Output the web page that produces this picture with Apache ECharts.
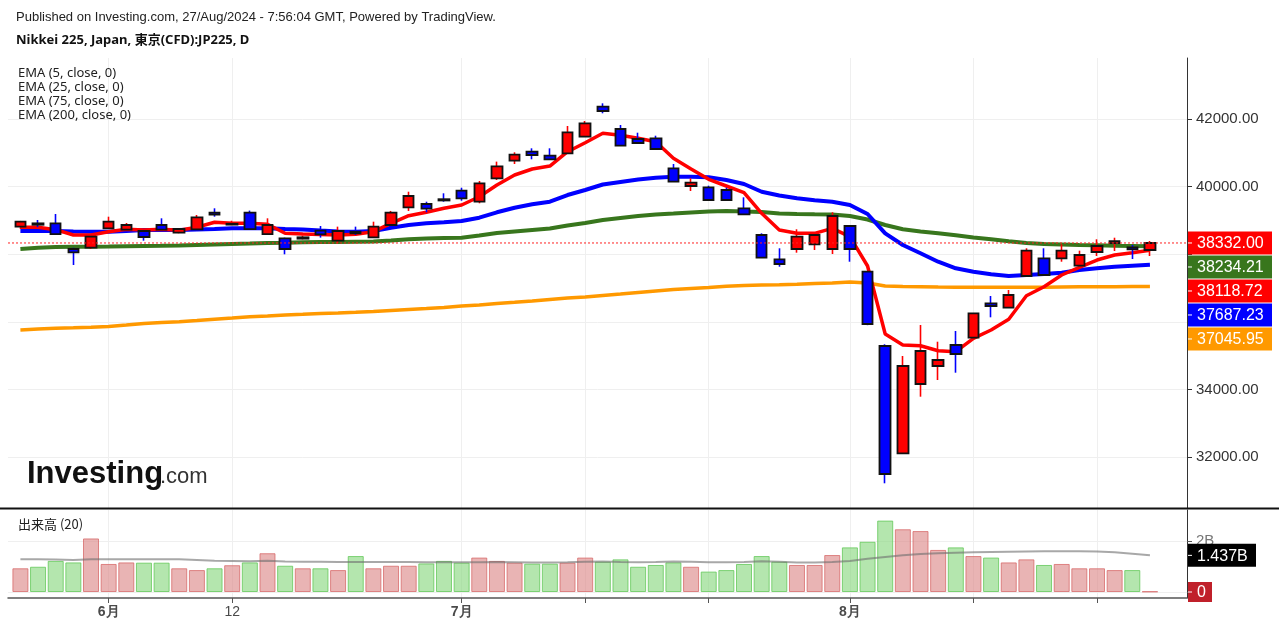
<!DOCTYPE html>
<html><head><meta charset="utf-8">
<script src="https://cdn.jsdelivr.net/npm/echarts@6/dist/echarts.min.js"></script>
<style>html,body{margin:0;padding:0;background:#fff}#c{width:1279px;height:631px}</style>
</head><body><div id="c"></div>
<script>
// ---------- data ----------
const dates = ['05-27','05-28','05-29','05-30','05-31','06-03','06-04','06-05','06-06','06-07',
 '06-10','06-11','06-12','06-13','06-14','06-17','06-18','06-19','06-20','06-21',
 '06-24','06-25','06-26','06-27','06-28','07-01','07-02','07-03','07-04','07-05',
 '07-08','07-09','07-10','07-11','07-12','07-16','07-17','07-18','07-19','07-22',
 '07-23','07-24','07-25','07-26','07-29','07-30','07-31','08-01','08-02','08-05',
 '08-06','08-07','08-08','08-09','08-13','08-14','08-15','08-16','08-19','08-20',
 '08-21','08-22','08-23','08-26','08-27'];
const open  = [38814,38913,38913,38154,38192,38765,38725,38686,38864,38636,
 38737,39231,38875,39231,38597,38470,38460,38695,38400,38666,
 38500,38864,39388,39485,39627,39879,39553,40246,40766,41033,
 40914,40985,41476,42364,41704,41408,41428,40541,40018,39979,
 39899,39358,38568,37849,38154,38293,38154,38834,37482,35284,
 32110,34160,34692,35314,35530,36547,36418,37355,37879,37879,
 37660,38065,38325,38204,38124];
const close = [38962,38872,38597,38056,38518,38962,38864,38509,38725,38745,
 39092,39172,38900,38740,38864,38154,38500,38588,38686,38617,
 38815,39231,39722,39349,39590,39654,40098,40601,40944,40935,
 40808,41606,41872,42237,41210,41290,41112,40145,40116,39604,
 39604,39180,37896,37710,38518,38568,39130,38154,35935,31497,
 34692,35136,34870,35047,36251,36467,36793,38104,37385,38104,
 37976,38243,38385,38145,38332];
const low   = [38746,38800,38590,37680,38154,38760,38720,38400,38720,38620,
 38735,39110,38860,38735,38568,37997,38440,38490,38322,38568,
 38495,38860,39278,39240,39553,39583,39506,40195,40669,40808,
 40800,40985,41470,42169,41205,41290,41110,40140,39870,39574,
 39574,39160,37890,37630,38045,38124,38006,37778,35900,31222,
 32100,33784,34278,34494,35520,36133,36410,37350,37380,37778,
 37612,37947,38095,37858,37947];
const high  = [38985,39012,39189,38192,38548,39110,38923,38716,39062,38765,
 39160,39358,38990,39290,39062,38490,38548,38834,38815,38815,
 38962,39280,39849,39553,39802,39967,40166,40739,41015,41133,
 41133,41793,41941,42464,41822,41595,41506,40669,40246,40027,
 39967,39683,38618,38175,38737,38618,39240,38840,37500,35335,
 34988,35905,35411,35728,36260,36763,36941,38175,38175,38293,
 38104,38441,38488,38272,38390];
const ema5  = [38796,38796,38725,38568,38568,38666,38737,38716,38737,38707,
 38796,38944,38914,38914,38885,38618,38598,38583,38568,38589,
 38666,38914,39139,39240,39358,39456,39701,40047,40343,40521,
 40609,41033,41299,41577,41518,41429,41328,40837,40521,40216,
 40018,39820,39210,38716,38618,38618,38766,38518,37651,35639,
 35314,35293,35145,35115,35512,35757,36074,36772,37038,37385,
 37612,37828,37976,38044,38118.72];
const ema25 = [38686,38686,38686,38672,38666,38666,38686,38716,38716,38716,
 38731,38746,38766,38766,38766,38746,38731,38701,38672,38666,
 38686,38784,38864,38914,38944,38982,39080,39240,39376,39476,
 39553,39751,39899,40062,40136,40210,40263,40293,40293,40275,
 40195,40077,39849,39737,39654,39595,39553,39456,39189,38618,
 38272,38027,37778,37583,37482,37405,37355,37385,37414,37453,
 37533,37583,37630,37660,37687.23];
const ema75 = [38154,38192,38213,38222,38222,38228,38237,38243,38248,38254,
 38272,38287,38302,38316,38331,38340,38355,38361,38361,38370,
 38376,38405,38441,38464,38479,38488,38553,38627,38672,38716,
 38760,38849,38923,39012,39071,39130,39175,39204,39234,39263,
 39278,39263,39249,39204,39189,39180,39175,39130,39027,38864,
 38737,38672,38618,38559,38494,38441,38382,38331,38302,38287,
 38272,38263,38252,38243,38234.21];
const ema200 = [35757,35787,35808,35822,35837,35861,35905,35950,35979,36003,
 36038,36077,36112,36148,36172,36201,36222,36245,36260,36281,
 36305,36334,36364,36393,36423,36467,36497,36541,36577,36615,
 36660,36704,36734,36778,36822,36867,36911,36956,36985,37015,
 37050,37074,37089,37098,37109,37133,37148,37177,37148,37059,
 37044,37038,37030,37024,37021,37021,37021,37021,37021,37030,
 37038,37038,37038,37044,37045.95];
const volume = [0.93,0.99,1.22,1.16,2.10,1.10,1.16,1.15,1.15,0.93,
 0.86,0.93,1.05,1.16,1.52,1.03,0.93,0.93,0.86,1.41,
 0.93,1.03,1.03,1.12,1.22,1.15,1.35,1.22,1.15,1.11,
 1.11,1.15,1.35,1.19,1.28,0.99,1.06,1.16,0.99,0.80,
 0.86,1.10,1.41,1.19,1.06,1.06,1.45,1.75,1.97,2.80,
 2.46,2.39,1.65,1.75,1.41,1.35,1.16,1.28,1.06,1.10,
 0.93,0.93,0.86,0.86,0.02];
const volumeMA = [1.28,1.28,1.27,1.26,1.28,1.28,1.28,1.28,1.28,1.28,
 1.26,1.23,1.22,1.21,1.23,1.20,1.19,1.19,1.18,1.18,
 1.18,1.18,1.18,1.17,1.17,1.17,1.17,1.18,1.17,1.16,
 1.16,1.17,1.19,1.20,1.18,1.17,1.18,1.20,1.19,1.17,
 1.17,1.18,1.21,1.19,1.16,1.16,1.18,1.22,1.30,1.37,
 1.44,1.49,1.52,1.54,1.56,1.57,1.58,1.59,1.60,1.60,
 1.60,1.59,1.56,1.50,1.437];
const xTickIdx = [5,12,25,32,39,47,54,61];
const xLabels = {5:'6月',12:'12',25:'7月',47:'8月'};
const priceGridVals = [32000,34000,36000,38000,40000,42000];
const priceLabelVals = [32000,34000,40000,42000];
const volGridVals = [0,2];
const legendLines = ['EMA (5, close, 0)','EMA (25, close, 0)','EMA (75, close, 0)','EMA (200, close, 0)'];
const priceBadges = [
  {v:38332.00, c:'#ff0000'},
  {v:38234.21, c:'#38761d'},
  {v:38118.72, c:'#ff0000'},
  {v:37687.23, c:'#0000ff'},
  {v:37045.95, c:'#ff9900'}
];
// axis ranges
const X_MIN = -0.703, X_MAX = 66.1;
const P_MIN = 30491, P_MAX = 43805;
const V_MIN = -0.235, V_MAX = 3.216;

// ---------- chart ----------
const chart = echarts.init(document.getElementById('c'), null, {renderer:'canvas', width:1279, height:631});
const FONT = '"Liberation Sans", Arial, sans-serif';
const isUp = i => close[i] >= open[i];
const lastClose = close[close.length-1];
const candleData = dates.map((d,i)=>[i, open[i], close[i], low[i], high[i]]);
const bodyData = dates.map((d,i)=>[i, open[i], close[i], Math.min(open[i],close[i]), Math.max(open[i],close[i])]);
const volData = dates.map((d,i)=>({
  value:[i, volume[i]],
  itemStyle: isUp(i) ? {color:'rgba(218,130,130,0.6)', borderColor:'rgba(214,100,100,0.75)'}
                     : {color:'rgba(130,214,120,0.6)', borderColor:'rgba(100,200,90,0.8)'}
}));
const pts = arr => arr.map((v,i)=>[i,v]);
const lineS = (name, arr, color, w) => ({
  name, type:'line', xAxisIndex:0, yAxisIndex:0, data:pts(arr), symbol:'none', smooth:false,
  lineStyle:{color, width:w}, itemStyle:{color}, silent:true, z:2
});

const gridLine = {show:true, lineStyle:{color:'#efefef', width:1}};

const option = {
  animation:false,
  backgroundColor:'#ffffff',
  grid:[{left:8, top:58, width:1179, height:450}, {left:8, top:510, width:1179, height:88}],
  xAxis:[
    {type:'value', gridIndex:0, min:X_MIN, max:X_MAX,
     axisLine:{show:false}, axisTick:{show:false, customValues:xTickIdx},
     axisLabel:{show:false}, splitLine:gridLine},
    {type:'value', gridIndex:1, min:X_MIN, max:X_MAX,
     axisLine:{show:true, onZero:false, lineStyle:{color:'#555', width:1.5}},
     axisTick:{show:true, customValues:xTickIdx, length:5, lineStyle:{color:'#555'}},
     axisLabel:{show:true, customValues:Object.keys(xLabels).map(Number), margin:7,
       formatter: v => { const t = xLabels[Math.round(v)] || ''; return /月/.test(t) ? '{b|'+t+'}' : '{n|'+t+'}'; },
       rich:{b:{fontWeight:'bold', fontSize:14, color:'#4a4a4a', fontFamily:FONT},
             n:{fontSize:14, color:'#4a4a4a', fontFamily:FONT}}},
     splitLine:gridLine}
  ],
  yAxis:[
    {type:'value', gridIndex:0, position:'right', min:P_MIN, max:P_MAX,
     axisLine:{show:true, onZero:false, lineStyle:{color:'#333', width:1}},
     axisTick:{show:true, customValues:priceGridVals, length:5, lineStyle:{color:'#333'}},
     axisLabel:{show:true, customValues:priceLabelVals, formatter:v=>Number(v).toFixed(2),
       color:'#333', fontSize:15, fontFamily:FONT, margin:9},
     splitLine:gridLine},
    {type:'value', gridIndex:1, position:'right', min:V_MIN, max:V_MAX,
     axisLine:{show:true, onZero:false, lineStyle:{color:'#333', width:1}},
     axisTick:{show:true, customValues:volGridVals, length:5, lineStyle:{color:'#555'}},
     axisLabel:{show:true, customValues:[2], formatter:v=>v+'B', color:'#777', fontSize:15, fontFamily:FONT, margin:9},
     splitLine:gridLine}
  ],
  series:[
    lineS('EMA200', ema200, '#ff9900', 3.5),
    lineS('EMA75', ema75, '#38761d', 4),
    lineS('EMA25', ema25, '#0000ff', 4),
    lineS('EMA5', ema5, '#ff0000', 3.5),
    {name:'priceLine', type:'line', xAxisIndex:0, yAxisIndex:0, symbol:'none', silent:true, z:5,
     data:[[X_MIN, lastClose],[X_MAX, lastClose]],
     lineStyle:{color:'#ff2020', width:1, type:[2,2]}, itemStyle:{color:'#ff2020'}},
    {name:'wick', type:'candlestick', xAxisIndex:0, yAxisIndex:0, data:candleData, barWidth:1, silent:true, z:3,
     itemStyle:{color:'#ff0000', color0:'#0000ff', borderColor:'#ff0000', borderColor0:'#0000ff', borderWidth:1.6}},
    {name:'body', type:'candlestick', xAxisIndex:0, yAxisIndex:0, data:bodyData, barWidth:11, silent:true, z:4,
     itemStyle:{color:'#ff0000', color0:'#0000ff', borderColor:'#111', borderColor0:'#111', borderWidth:1.8}},
    {name:'vol', type:'bar', xAxisIndex:1, yAxisIndex:1, data:volData, barWidth:16, silent:true,
     itemStyle:{borderWidth:1}},
    {name:'volMA', type:'line', xAxisIndex:1, yAxisIndex:1, data:pts(volumeMA), symbol:'none',
     lineStyle:{color:'rgba(110,110,110,0.6)', width:2}, silent:true, z:3}
  ]
};
chart.setOption(option);

// ---------- texts & badges ----------
const g = [];
g.push({type:'text', x:16, y:17, style:{text:'Published on Investing.com, 27/Aug/2024 - 7:56:04 GMT, Powered by TradingView.', font:'13px '+FONT, fill:'#222', verticalAlign:'middle'}});
g.push({type:'text', x:16, y:40, style:{text:'Nikkei 225, Japan, 東京(CFD):JP225, D', font:'bold 13px "Noto Sans", "Noto Sans CJK JP", sans-serif', fill:'#111', verticalAlign:'middle'}});
legendLines.forEach((t,k)=>g.push({type:'text', x:18, y:73+k*14, style:{text:t, font:'13px "Noto Sans", sans-serif', fill:'#222', verticalAlign:'middle'}}));
g.push({type:'text', x:18, y:524, style:{text:'出来高 (20)', font:'13px "Noto Sans CJK JP", "Noto Sans", sans-serif', fill:'#222', verticalAlign:'middle'}});
// logo
g.push({type:'text', x:27, y:474, z:1, style:{text:'Investing', font:'bold 31px '+FONT, fill:'#111', verticalAlign:'middle'}});
g.push({type:'text', x:160, y:477, z:1, style:{text:'.com', font:'22px '+FONT, fill:'#333', verticalAlign:'middle'}});
// separator
g.push({type:'line', shape:{x1:0, y1:508.5, x2:1279, y2:508.5}, style:{stroke:'#111', lineWidth:2}, z:50});

const AX = 1187;
function badge(yc, w, h, fill, text){
  g.push({type:'rect', z:100, shape:{x:AX+1, y:yc-h/2, width:w, height:h}, style:{fill}});
  g.push({type:'line', z:101, shape:{x1:AX+1, y1:yc, x2:AX+5, y2:yc}, style:{stroke:'#fff', lineWidth:1}});
  g.push({type:'text', z:102, x:AX+10, y:yc+1, style:{text, font:'16px '+FONT, fill:'#fff', verticalAlign:'middle'}});
}
let prev = -1e9;
priceBadges.forEach(b=>{
  let y = chart.convertToPixel({yAxisIndex:0}, b.v);
  if (y < prev + 24) y = prev + 24;
  prev = y;
  badge(y, 84, 23, b.c, b.v.toFixed(2));
});
const lastMA = volumeMA[volumeMA.length-1];
badge(chart.convertToPixel({yAxisIndex:1}, lastMA), 68, 23, '#000', lastMA.toFixed(3)+'B');
badge(chart.convertToPixel({yAxisIndex:1}, 0), 24, 20, '#c0202a', '0');
chart.setOption({graphic:g});
</script>
</body></html>
